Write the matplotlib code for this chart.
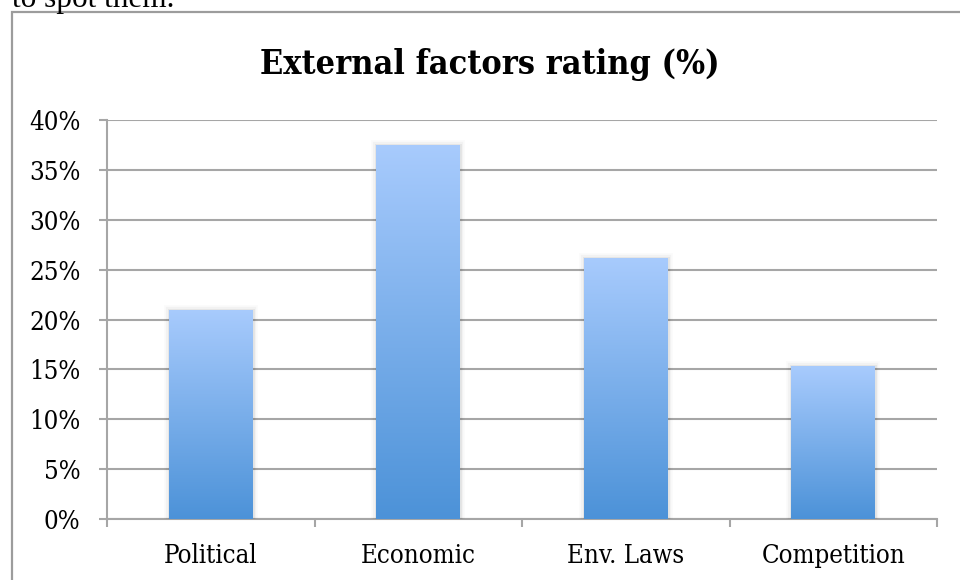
import numpy as np
import matplotlib
matplotlib.use("Agg")
import matplotlib.pyplot as plt
import matplotlib.patheffects as pe
from matplotlib.patches import Rectangle
from matplotlib.colors import LinearSegmentedColormap
from matplotlib.ticker import FuncFormatter, FixedLocator

categories = ["Political", "Economic", "Env. Laws", "Competition"]
ratings = [0.21, 0.375, 0.262, 0.153]
y_ticks = [0.0, 0.05, 0.10, 0.15, 0.20, 0.25, 0.30, 0.35, 0.40]
title = "External factors rating (%)"
lead_text = "to spot them."

W, H = 960, 580
fig = plt.figure(figsize=(W / 100, H / 100), dpi=100)
fig.patch.set_facecolor("white")

grid_col = "#a6a6a6"
label_font = "DejaVu Serif"
stretch = "condensed"

# chart frame, running off the right and bottom edges
fig.add_artist(Rectangle((11.5 / W, -0.1), 2.0, 1 - 11.5 / H + 0.1,
                         transform=fig.transFigure, fill=False,
                         ec="#9c9c9c", lw=1.6))

# trailing line of the preceding paragraph
fig.text(12 / W, 1 - 7 / H, lead_text, family="Liberation Serif",
         fontsize=22.5, va="baseline", ha="left", color="black")

fig.text(490 / W, 1 - 74 / H, title, family=label_font, stretch=stretch,
         weight="bold", fontsize=24.5, ha="center", va="baseline",
         color="black")

ax = fig.add_axes([107 / W, 1 - 519 / H, (937 - 107) / W, (519 - 120) / H])
ax.set_facecolor("none")

x = np.arange(len(categories))
bars = ax.bar(x, ratings, width=0.404, color="#7aaee8", zorder=3)

gradient = LinearSegmentedColormap.from_list("barfade", ["#4c92d8", "#a8cbfd"])
grad = np.linspace(0, 1, 256).reshape(-1, 1)
for b in bars:
    b.set_path_effects([
        pe.Stroke(linewidth=7, foreground="black", alpha=0.02),
        pe.Stroke(linewidth=4.5, foreground="black", alpha=0.03),
        pe.Stroke(linewidth=2.2, foreground="black", alpha=0.05),
        pe.Normal(),
    ])
    x0, y0 = b.get_x(), b.get_y()
    bw, bh = b.get_width(), b.get_height()
    im = ax.imshow(grad, cmap=gradient, origin="lower", aspect="auto",
                   extent=(x0, x0 + bw, y0, y0 + bh), zorder=4,
                   interpolation="bicubic")
    im.set_clip_path(b)

ax.set_xlim(-0.5, len(categories) - 0.5)
ax.set_ylim(0, 0.40)

ax.yaxis.set_major_locator(FixedLocator(y_ticks))
ax.yaxis.set_major_formatter(FuncFormatter(lambda v, _: f"{v * 100:.0f}%"))
ax.grid(axis="y", color=grid_col, lw=1.5, zorder=1)
ax.set_axisbelow(True)

# category boundaries carry the tick marks, centres carry the labels
ax.xaxis.set_major_locator(FixedLocator(np.arange(len(categories) + 1) - 0.5))
ax.xaxis.set_major_formatter(FuncFormatter(lambda v, _: ""))
ax.xaxis.set_minor_locator(FixedLocator(x))
ax.set_xticklabels(categories, minor=True)
ax.tick_params(axis="x", which="major", length=6, width=1.5, color=grid_col)
ax.tick_params(axis="x", which="minor", length=0, pad=17, labelsize=18.5)
ax.tick_params(axis="y", length=6, width=1.5, color=grid_col, pad=13,
               labelsize=18.5)
for lab in ax.get_xticklabels(minor=True) + ax.get_yticklabels():
    lab.set_family(label_font)
    lab.set_stretch(stretch)

for side in ("top", "right"):
    ax.spines[side].set_visible(False)
for side in ("left", "bottom"):
    ax.spines[side].set_color(grid_col)
    ax.spines[side].set_linewidth(1.5)
    ax.spines[side].set_zorder(2)

fig.savefig("out.png", dpi=100, facecolor="white")
